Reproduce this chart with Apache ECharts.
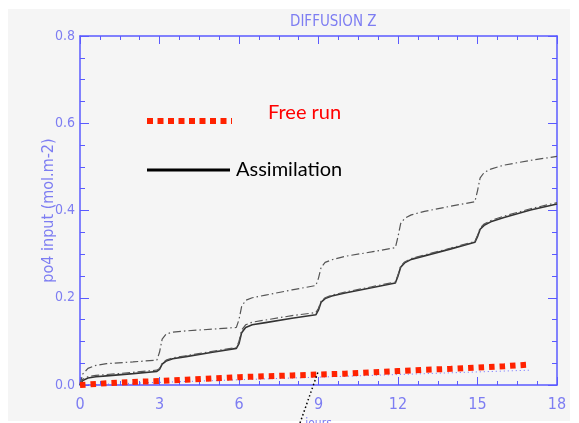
<!DOCTYPE html>
<html><head><meta charset="utf-8">
<script src="https://cdn.jsdelivr.net/npm/echarts@6/dist/echarts.min.js"></script>
<style>html,body{margin:0;padding:0;background:#fff}#c{width:579px;height:423px}</style>
</head><body><div id="c"></div>
<script>
var days = [0,0.1,0.3,0.6,1,2,2.9,3.0,3.1,3.25,3.5,4,5,5.9,6.0,6.1,6.25,6.5,7,8,8.9,9.0,9.1,9.25,9.5,10,11,11.9,12.0,12.1,12.25,12.5,13,14,14.9,15.0,15.1,15.25,15.5,16,17,18];
var assimSolid = [0,0.010,0.016,0.019,0.021,0.026,0.031,0.036,0.048,0.055,0.060,0.065,0.075,0.084,0.095,0.120,0.132,0.138,0.143,0.153,0.161,0.172,0.190,0.198,0.204,0.211,0.223,0.234,0.250,0.270,0.280,0.288,0.296,0.312,0.327,0.340,0.357,0.366,0.374,0.384,0.401,0.415];
var assimDash = [0,0.013,0.019,0.022,0.024,0.029,0.034,0.038,0.050,0.057,0.062,0.067,0.077,0.086,0.100,0.126,0.138,0.144,0.149,0.159,0.166,0.176,0.192,0.200,0.206,0.213,0.225,0.236,0.252,0.272,0.282,0.290,0.298,0.314,0.329,0.343,0.360,0.369,0.377,0.387,0.404,0.418];
var upperRun = [0,0.025,0.038,0.045,0.049,0.053,0.057,0.075,0.105,0.117,0.121,0.124,0.128,0.132,0.150,0.180,0.194,0.200,0.206,0.218,0.228,0.245,0.270,0.281,0.287,0.295,0.305,0.315,0.340,0.370,0.382,0.390,0.398,0.410,0.420,0.445,0.475,0.487,0.495,0.504,0.515,0.524];
var freeDays = [0,1,2,3,4,5,6,7,8,9,10,11,12,13,14,15,16,17];
var freeRun = [0,0.004,0.007,0.009,0.012,0.015,0.018,0.020,0.022,0.024,0.026,0.029,0.032,0.035,0.037,0.040,0.043,0.047];
var blueRun = [0,0.002,0.004,0.006,0.008,0.010,0.012,0.014,0.016,0.018,0.020,0.022,0.024,0.026,0.028,0.030,0.032,0.034];
var xTicks = [0,3,6,9,12,15,18];
var yTicks = [0,0.2,0.4,0.6,0.8];

function pairs(xs, ys){ return xs.map(function(x,i){return [x, ys[i]];}); }

var axisBlue = '#5a5aff';
var labelBlue = '#7d7df2';
var fontNarrow = '"Liberation Sans Narrow","DejaVu Sans Condensed",sans-serif';

var chart = echarts.init(document.getElementById('c'), null, {renderer:'canvas'});
var baseX = {
  type:'value', min:0, max:18, interval:3,
  axisLine:{show:true, onZero:false, lineStyle:{color:axisBlue, width:1.5}},
  axisTick:{show:true, inside:true, length:8, lineStyle:{color:axisBlue}},
  minorTick:{show:true, splitNumber:4, length:4, lineStyle:{color:axisBlue}},
  splitLine:{show:false}
};
var baseY = {
  type:'value', min:0, max:0.8, interval:0.2,
  axisLine:{show:true, onZero:false, lineStyle:{color:axisBlue, width:1.5}},
  axisTick:{show:true, inside:true, length:9, lineStyle:{color:axisBlue}},
  minorTick:{show:true, splitNumber:4, length:5, lineStyle:{color:axisBlue}},
  splitLine:{show:false}
};
chart.setOption({
  animation:false,
  backgroundColor:'#ffffff',
  title:{text:'DIFFUSION Z', left:285, top:10, textStyle:{color:labelBlue, fontSize:15, fontWeight:'normal', fontFamily:fontNarrow}},
  grid:{left:80, right:22, top:36, bottom:38, containLabel:false, outerBoundsMode:'none'},
  xAxis:[
    Object.assign({}, baseX, {position:'bottom', name:'jours', nameLocation:'middle', nameGap:33, nameMoveOverlap:false,
      nameTextStyle:{color:labelBlue, fontSize:12, fontFamily:fontNarrow},
      axisLabel:{show:true, margin:12, color:labelBlue, fontSize:16, fontFamily:fontNarrow,
        formatter:function(v){return xTicks.indexOf(v)>=0 ? String(v) : '';}}}),
    Object.assign({}, baseX, {position:'top', axisLabel:{show:false}})
  ],
  yAxis:[
    Object.assign({}, baseY, {position:'left', name:'po4 input (mol.m-2)', nameLocation:'middle', nameGap:23, nameMoveOverlap:false,
      nameTextStyle:{color:labelBlue, fontSize:16, fontFamily:fontNarrow},
      axisLabel:{show:true, margin:5, color:labelBlue, fontSize:14, fontFamily:fontNarrow,
        formatter:function(v){return yTicks.indexOf(+v.toFixed(2))>=0 ? v.toFixed(1) : '';}}}),
    Object.assign({}, baseY, {position:'right', axisLabel:{show:false}})
  ],
  graphic:[
    {type:'rect', z:-10, shape:{x:8,y:9,width:562,height:412}, style:{fill:'#f5f5f5'}, silent:true},
    {type:'line', shape:{x1:147,y1:121,x2:232,y2:121}, style:{stroke:'#ff2200', lineWidth:6, lineDash:[6,4.5]}},
    {type:'text', left:268, top:103, style:{text:'Free run', fill:'#ff0000', fontSize:20, fontFamily:'Lato, "Open Sans", sans-serif'}},
    {type:'line', shape:{x1:147,y1:170,x2:230,y2:170}, style:{stroke:'#000000', lineWidth:3}},
    {type:'text', left:236, top:160, style:{text:'Assimilation', fill:'#000000', fontSize:20, fontFamily:'Lato, "Open Sans", sans-serif'}},
    {type:'line', z:100, shape:{x1:300,y1:423,x2:318,y2:372}, style:{stroke:'#000000', lineWidth:1.5, lineDash:[1.5,2.5]}}
  ],
  series:[
    {type:'line', name:'blue', data:pairs(freeDays, blueRun), showSymbol:false, lineStyle:{color:'#6d6dff', width:1, type:[1,3]}},
    {type:'line', name:'Assimilation', data:pairs(days, assimSolid), showSymbol:false, lineStyle:{color:'#333333', width:1.6}},
    {type:'line', name:'Assimilation 2', data:pairs(days, assimDash), showSymbol:false, lineStyle:{color:'#555555', width:1.2, type:[8,3,1.5,3]}},
    {type:'line', name:'Upper', data:pairs(days, upperRun), showSymbol:false, lineStyle:{color:'#555555', width:1.2, type:[8,3,1.5,3]}},
    {type:'line', name:'Free run', data:pairs(freeDays, freeRun), showSymbol:false, lineStyle:{color:'#ff2200', width:6, type:[5.5,5]}, z:5}
  ]
});
</script></body></html>
